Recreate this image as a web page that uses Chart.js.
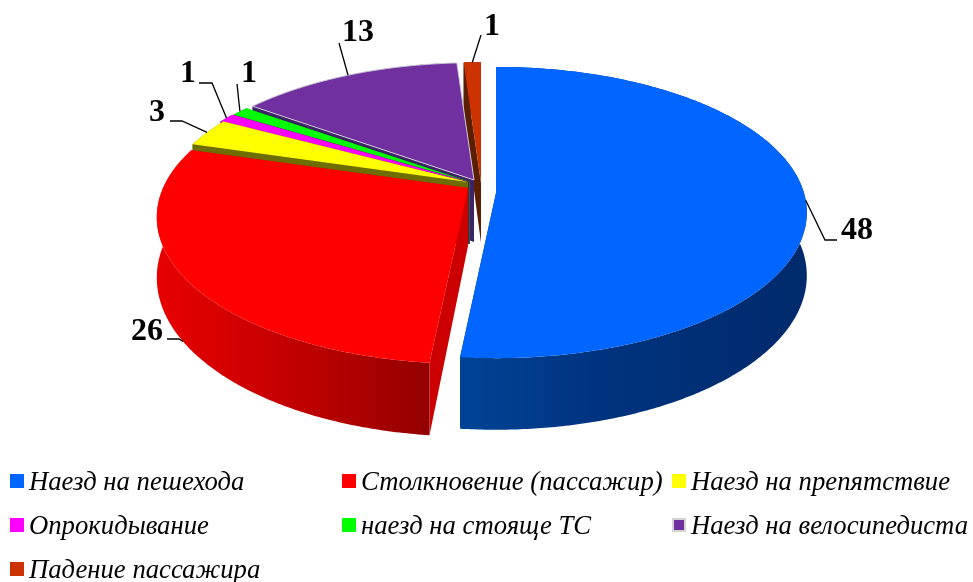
<!DOCTYPE html>
<html>
<head>
<meta charset="utf-8">
<script src="https://cdn.jsdelivr.net/npm/chart.js@4"></script>
<style>
  html, body { margin: 0; padding: 0; background: #fff; }
  #wrap { position: relative; width: 973px; height: 582px; overflow: hidden; }
  .leg { position: absolute; font: italic 26.7px "Liberation Serif", serif; color: #000; white-space: nowrap; line-height: 28px; }
  .leg i { position: absolute; left: -19px; top: 7px; width: 14px; height: 14px; }
</style>
</head>
<body>
<div id="wrap">
  <canvas id="pie" width="973" height="582"></canvas>
</div>
<script>
const categories = ['Наезд на пешехода', 'Столкновение (пассажир)', 'Наезд на препятствие', 'Опрокидывание', 'наезд на стояще ТС', 'Наезд на велосипедиста', 'Падение пассажира'];
const values = [48, 26, 3, 1, 1, 13, 1];
const colors = ['#0066ff', '#ff0000', '#ffff00', '#ff00ff', '#00ff00', '#7030a0', '#cc3300'];
const cutColors = ['#002a6b', '#cc0000', '#6e6e00', '#800080', '#008000', '#3d2466', '#5a1f00'];
const wallStops = [
  ['#004496', '#00337f', '#002a6b'],
  ['#e80000', '#c20000', '#940000'],
  ['#6e6e00', '#6e6e00', '#6e6e00'],
  ['#800080', '#800080', '#800080'],
  ['#008000', '#008000', '#008000'],
  ['#3d2466', '#3d2466', '#3d2466'],
  ['#5a1f00', '#5a1f00', '#5a1f00']
];

// look of the 3d pie
const tilt = 0.457;
// dx, dy, scale x, scale y, perspective, depth of each slice
const explode = [[26, 11, 1, 1.016, 0.134, 62], [-2, 6, 0.99, 1, 0.2, 58], [-2, 0, 0.985, 1, 0.2, 62], [-1, 0, 1, 1, 0.2, 62], [0, 0, 1, 1, 0.2, 62], [4, -2, 0.99, 1, 0.2, 62], [11, 1, 1, 1.03, 0.2, 60]];
const drawOrder = [6, 5, 4, 3, 2, 1, 0];

// label box (left, middle), leader elbow points after the rim point
const labelPos = [[841, 231], [131, 332], [149, 113], [180, 74], [241, 74], [342, 33], [484, 27]];
const leaders = [[[825, 240], [837, 240]], [[179, 339], [167, 339]], [[182, 121], [170, 121]], [[212, 83], [199, 83]], [[237, 84]], [[339, 43]], [[481, 35]]];
const leaderFromWall = [false, true, false, false, false, false, false];

const legendCols = [29, 361, 691];
const legendRows = [467, 511, 555];

function project(arc, i, angle, frac) {
  const e = explode[i];
  const nx = Math.cos(angle) * frac, ny = Math.sin(angle) * frac;
  const s = 1 / (1 - e[4] * ny);
  const R = arc.outerRadius;
  return {
    x: arc.x + e[0] + R * e[2] * nx * s,
    y: arc.y + e[1] + R * tilt * e[3] * ny * s,
    s: s
  };
}

function rim(arc, i) {
  const pts = [];
  const steps = Math.max(2, Math.ceil((arc.endAngle - arc.startAngle) / 0.01));
  for (let k = 0; k <= steps; k++) {
    pts.push(project(arc, i, arc.startAngle + (arc.endAngle - arc.startAngle) * k / steps, 1));
  }
  return pts;
}

function poly(ctx, pts, fill) {
  ctx.beginPath();
  pts.forEach((p, n) => n ? ctx.lineTo(p.x, p.y) : ctx.moveTo(p.x, p.y));
  ctx.closePath();
  ctx.fillStyle = fill;
  ctx.fill();
}

function down(p, s, i) {
  return { x: p.x, y: p.y + explode[i][5] * s };
}

const pie3d = {
  id: 'pie3d',
  beforeDatasetsDraw(chart) {
    const ctx = chart.ctx;
    const arcs = chart.getDatasetMeta(0).data;
    drawOrder.forEach(i => {
      const arc = arcs[i];
      const apex = project(arc, i, arc.startAngle, 0);
      const pts = rim(arc, i);
      const first = pts[0], last = pts[pts.length - 1];

      // cut faces
      poly(ctx, [apex, first, down(first, first.s, i), down(apex, 1, i)], cutColors[i]);
      poly(ctx, [apex, last, down(last, last.s, i), down(apex, 1, i)], cutColors[i]);

      // outer wall
      const xs = pts.map(p => p.x);
      const grad = ctx.createLinearGradient(Math.min(...xs), 0, Math.max(...xs), 0);
      wallStops[i].forEach((c, n) => grad.addColorStop(i === 0 ? [0, 0.4, 1][n] : n / 2, c));
      poly(ctx, pts.concat(pts.map(p => down(p, p.s, i)).reverse()), grad);

      // top face
      poly(ctx, [apex].concat(pts), colors[i]);
      if (i === 5) {
        ctx.strokeStyle = '#cfcbd8';
        ctx.lineWidth = 1;
        ctx.stroke();
      }
    });

    // leader lines and value labels
    ctx.strokeStyle = '#000';
    ctx.lineWidth = 1.3;
    ctx.fillStyle = '#000';
    ctx.font = 'bold 32px "Liberation Serif", serif';
    ctx.textAlign = 'left';
    ctx.textBaseline = 'middle';
    arcs.forEach((arc, i) => {
      const p = project(arc, i, (arc.startAngle + arc.endAngle) / 2, 1);
      const from = leaderFromWall[i] ? down(p, p.s, i) : p;
      ctx.beginPath();
      ctx.moveTo(from.x, from.y);
      leaders[i].forEach(q => ctx.lineTo(q[0], q[1]));
      ctx.stroke();
      ctx.fillText(String(values[i]), labelPos[i][0], labelPos[i][1]);
    });
    return false;
  }
};

new Chart(document.getElementById('pie'), {
  type: 'pie',
  data: {
    labels: categories,
    datasets: [{ data: values, backgroundColor: colors, borderWidth: 0 }]
  },
  options: {
    responsive: false,
    animation: false,
    radius: 308,
    layout: { padding: { left: 0, top: 0, right: 33, bottom: 218 } },
    events: [],
    plugins: { legend: { display: false }, tooltip: { enabled: false } }
  },
  plugins: [pie3d]
});

// legend under the pie
const wrap = document.getElementById('wrap');
categories.forEach((name, i) => {
  const item = document.createElement('div');
  item.className = 'leg';
  item.style.left = legendCols[i % 3] + 'px';
  item.style.top = legendRows[Math.floor(i / 3)] + 'px';
  const box = document.createElement('i');
  box.style.background = colors[i];
  if (i === 5) {
    box.style.boxSizing = 'border-box';
    box.style.border = '2px solid #d4d4d4';
  }
  item.appendChild(box);
  item.appendChild(document.createTextNode(name));
  wrap.appendChild(item);
});
</script>
</body>
</html>
